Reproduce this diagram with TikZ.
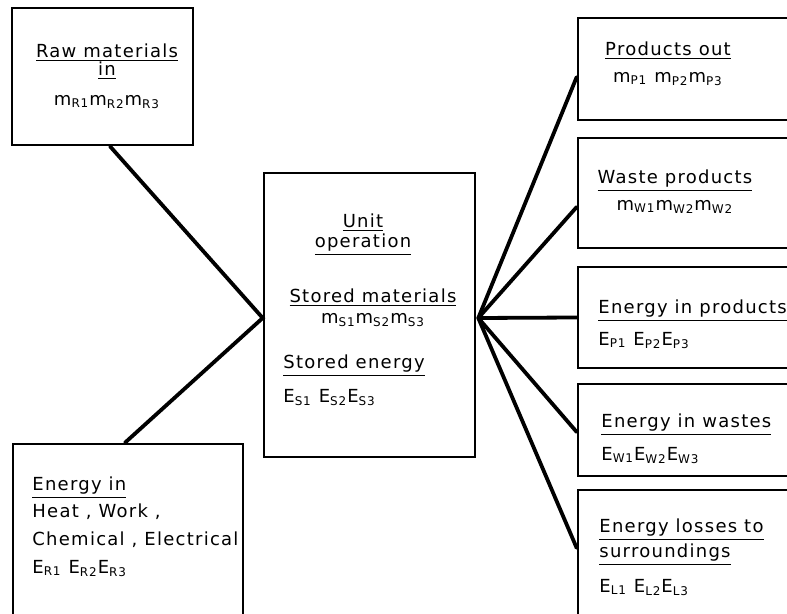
\documentclass[tikz,border=0pt]{standalone}
\usepackage{fontspec}
\setmainfont{DejaVu Sans}[LetterSpace=7]
\newcommand\lo[1]{\textsubscript{#1}}
\newcommand\hd[1]{\underline{#1}}
\newcommand\boxfont{\fontsize{9}{10}\selectfont\lineskiplimit=-20pt\relax}
\begin{document}
\begin{tikzpicture}[
x=0.5pt,y=-0.5pt,
box/.style={draw,line width=1.3pt,inner sep=0pt},
link/.style={line width=1.9pt,line cap=round},
txt/.style={inner sep=0pt,font=\boxfont}
]
\useasboundingbox (0,0) rectangle (787,614);
\clip (0,0) rectangle (787,614);
\node (raw)[box,minimum width=90.5pt,minimum height=68.5pt] at (102.5,76.5) {};
\node (ein)[box,minimum width=115pt,minimum height=108pt] at (128,552) {};
\node (unit)[box,minimum width=105.5pt,minimum height=142pt] at (369.5,315) {};
\node (p1)[box,minimum width=121pt,minimum height=51pt] at (699,69) {};
\node (p2)[box,minimum width=121pt,minimum height=55pt] at (699,193) {};
\node (p3)[box,minimum width=121pt,minimum height=50.5pt] at (699,317.5) {};
\node (p4)[box,minimum width=121pt,minimum height=46pt] at (699,430) {};
\node (p5)[box,minimum width=121pt,minimum height=80pt] at (699,570) {};

\node (rawtext)[txt,align=center,anchor=north] at (107,43.3) {\hd{Raw materials}\\[-1pt]\hd{in}\\[5pt]m\lo{R1}m\lo{R2}m\lo{R3}};
\node (eintext)[txt,align=left,anchor=north west] at (32,476.3) {\hd{Energy in}\\[3.5pt]Heat , Work ,\\[4pt]Chemical , Electrical\\[4pt]E\lo{R1} E\lo{R2}E\lo{R3}};
\node (unithead)[txt,align=center,anchor=north] at (363,213.3) {\hd{Unit}\\\hd{operation}};
\node (storedm)[txt,align=center,anchor=north] at (373,288.3) {\hd{Stored materials}\\[0.5pt]m\lo{S1}m\lo{S2}m\lo{S3}};
\node (storede)[txt,align=left,anchor=north west] at (283,354.3) {\hd{Stored energy}\\[7pt]E\lo{S1} E\lo{S2}E\lo{S3}};
\node (p1text)[txt,align=center,anchor=north] at (668,41.3) {\hd{Products out}\\[3.5pt]m\lo{P1} m\lo{P2}m\lo{P3}};
\node (p2text)[txt,align=center,anchor=north] at (675,169.3) {\hd{Waste products}\\[3.5pt]m\lo{W1}m\lo{W2}m\lo{W2}};
\node (p3text)[txt,align=left,anchor=north west] at (598,299.3) {\hd{Energy in products}\\[6pt]E\lo{P1} E\lo{P2}E\lo{P3}};
\node (p4text)[txt,align=left,anchor=north west] at (601,413.3) {\hd{Energy in wastes}\\[6.5pt]E\lo{W1}E\lo{W2}E\lo{W3}};
\node (p5text)[txt,align=left,anchor=north west] at (599,518.3) {\hd{Energy losses to}\\[2.5pt]\hd{surroundings}\\[7.5pt]E\lo{L1} E\lo{L2}E\lo{L3}};

\coordinate (inlet) at ([yshift=-1.5pt]unit.west);
\coordinate (outlet) at ([xshift=1pt,yshift=-1.5pt]unit.east);
\draw[link] ([xshift=3.75pt]raw.south) -- (inlet) -- ([xshift=-1.5pt]ein.north);
\foreach \n/\s in {p1/-4pt,p2/-7pt,p3/0pt,p4/-1pt,p5/11pt}
  \draw[link] (outlet) -- ([yshift=\s]\n.west);
\end{tikzpicture}
\end{document}
